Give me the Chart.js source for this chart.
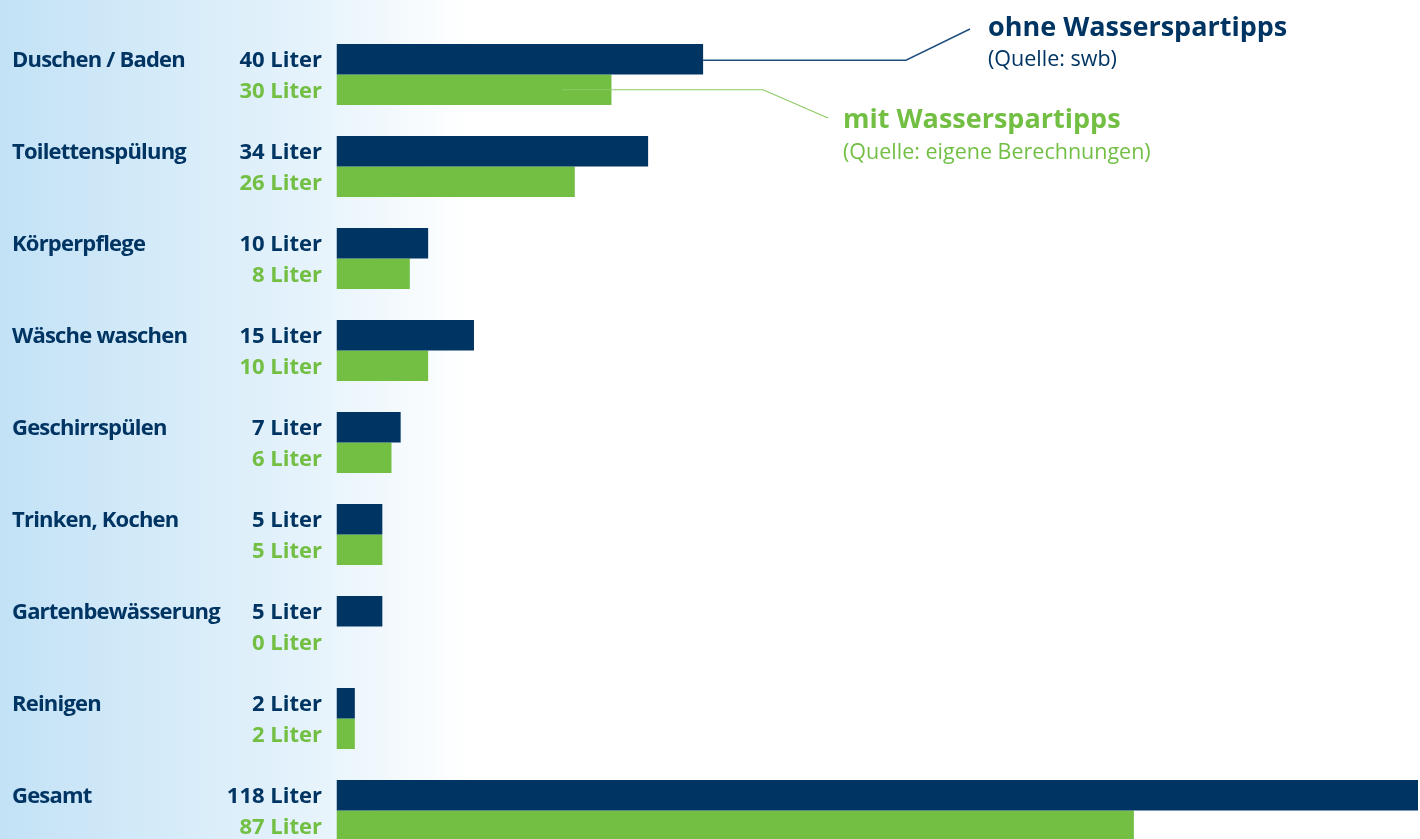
<!DOCTYPE html>
<html lang="de">
<head>
<meta charset="utf-8">
<title>Wasserverbrauch pro Person und Tag</title>
<script src="https://cdn.jsdelivr.net/npm/chart.js@4/dist/chart.umd.min.js"></script>
<style>
  html, body { margin: 0; padding: 0; overflow: hidden; }
  body {
    width: 1420px; height: 839px;
    background: linear-gradient(to right, #c3e2f6 0px, #e4f2fb 300px, #ffffff 470px);
  }
  #wrap { position: absolute; left: 0; top: 0; width: 1420px; height: 860px; }
</style>
</head>
<body>
<div id="wrap"><canvas id="waterChart" width="1420" height="860"></canvas></div>
<script>
// === Data ===
const categories = ['Duschen / Baden', 'Toilettenspülung', 'Körperpflege', 'Wäsche waschen',
  'Geschirrspülen', 'Trinken, Kochen', 'Gartenbewässerung', 'Reinigen', 'Gesamt'];
const ohneTipps = [40, 34, 10, 15, 7, 5, 5, 2, 118];
const mitTipps  = [30, 26, 8, 10, 6, 5, 0, 2, 87];
const unit = 'Liter';

const NAVY = '#003462';
const GREEN = '#72bf44';
const FONT = '"Open Sans", "Noto Sans", sans-serif';

// === Labels, legend and leader lines drawn on the canvas ===
const labelPlugin = {
  id: 'labels',
  afterDatasetsDraw(chart) {
    const ctx = chart.ctx;
    const m0 = chart.getDatasetMeta(0);
    const m1 = chart.getDatasetMeta(1);
    ctx.save();
    ctx.font = `bold 22px ${FONT}`;
    ctx.textBaseline = 'alphabetic';
    categories.forEach((cat, i) => {
      const b0 = m0.data[i], b1 = m1.data[i];
      ctx.fillStyle = NAVY;
      ctx.textAlign = 'left';
      ctx.letterSpacing = '-0.8px';   // category names run a bit narrower
      ctx.fillText(cat, 12, b0.y + 8);
      ctx.letterSpacing = '0px';
      ctx.textAlign = 'right';
      ctx.fillText(ohneTipps[i] + ' ' + unit, 322, b0.y + 8);
      ctx.fillStyle = GREEN;
      ctx.fillText(mitTipps[i] + ' ' + unit, 322, b1.y + 8);
    });

    // leader lines from the first pair of bars to the legend
    const first0 = m0.data[0], first1 = m1.data[0];
    ctx.lineWidth = 1.4;
    ctx.strokeStyle = '#1f4f7e';
    ctx.beginPath();
    ctx.moveTo(first0.x, first0.y + 1);
    ctx.lineTo(906, first0.y + 1);
    ctx.lineTo(970, 29);
    ctx.stroke();

    ctx.strokeStyle = '#8ccb63';
    ctx.lineWidth = 1.2;
    ctx.beginPath();
    ctx.moveTo(562, first1.y);
    ctx.lineTo(763, first1.y);
    ctx.lineTo(828, 118);
    ctx.stroke();

    // legend texts
    ctx.textAlign = 'left';
    ctx.fillStyle = NAVY;
    ctx.font = `bold 27px ${FONT}`;
    ctx.fillText('ohne Wasserspartipps', 988, 36);
    ctx.font = `21.5px ${FONT}`;
    ctx.fillText('(Quelle: swb)', 988, 66);

    ctx.fillStyle = GREEN;
    ctx.font = `bold 27px ${FONT}`;
    ctx.fillText('mit Wasserspartipps', 843, 128);
    ctx.font = `21.5px ${FONT}`;
    ctx.fillText('(Quelle: eigene Berechnungen)', 843, 159);
    ctx.restore();
  }
};

// ====== Chart.js ======
const waterChart = new Chart(document.getElementById('waterChart'), {
  type: 'bar',
  data: {
    labels: categories,
    datasets: [
      { label: 'ohne Wasserspartipps', data: ohneTipps, backgroundColor: NAVY },
      { label: 'mit Wasserspartipps', data: mitTipps, backgroundColor: GREEN }
    ]
  },
  options: {
    indexAxis: 'y',
    responsive: false,
    animation: false,
    devicePixelRatio: 1,
    datasets: { bar: { categoryPercentage: 0.663, barPercentage: 1.0, borderWidth: 0 } },
    layout: { padding: { left: 336.5, right: 2, top: 28.5, bottom: 3.5 } },
    plugins: { legend: { display: false }, title: { display: false }, tooltip: { enabled: false } },
    scales: {
      x: { display: false, min: 0, max: 118, grid: { display: false } },
      y: { display: false, grid: { display: false } }
    }
  },
  plugins: [labelPlugin]
});
</script>
</body>
</html>
